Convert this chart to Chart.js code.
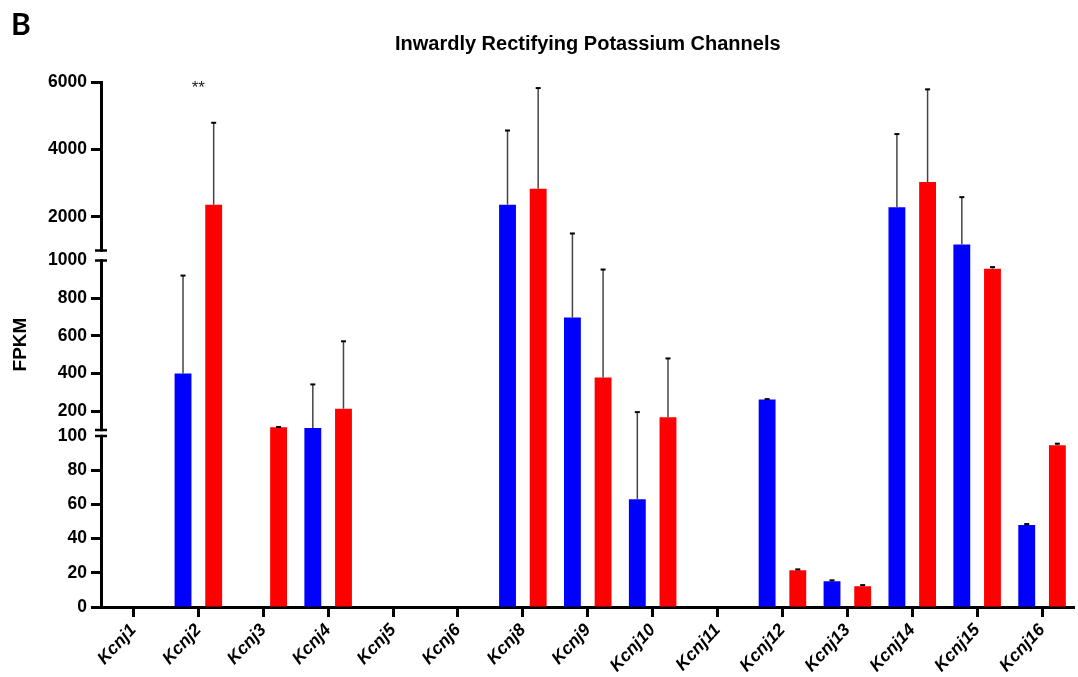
<!DOCTYPE html>
<html>
<head>
<meta charset="utf-8">
<script src="https://cdn.jsdelivr.net/npm/chart.js@4.4.1/dist/chart.umd.min.js"></script>
<style>
  html, body { margin: 0; padding: 0; background: #fff; }
  #wrap { width: 1078px; height: 677px; }
</style>
</head>
<body>
<div id="wrap"><canvas id="kcnjChart" width="1078" height="677"></canvas></div>
<script>
// data (FPKM)
const genes = ['Kcnj1', 'Kcnj2', 'Kcnj3', 'Kcnj4', 'Kcnj5', 'Kcnj6', 'Kcnj8', 'Kcnj9',
    'Kcnj10', 'Kcnj11', 'Kcnj12', 'Kcnj13', 'Kcnj14', 'Kcnj15', 'Kcnj16'];
const blueMean = [0, 400, 0, 110, 0, 0, 2360, 697, 63, 0, 262, 15, 2285, 1178, 48];
const blueSD   = [0, 520, 0, 232, 0, 0, 2200, 808, 132, 0, 2, 0.6, 2170, 1405, 0.5];
const redMean  = [0, 2357, 115, 213, 0, 0, 2832, 379, 168, 0, 21.5, 12.1, 3029, 956, 94.6];
const redSD    = [0, 2433, 1, 358, 0, 0, 2988, 573, 312, 0, 0.5, 0.7, 2753, 9, 0.9];
const tickVals = [0, 20, 40, 60, 80, 100, 200, 400, 600, 800, 1000, 2000, 4000, 6000];
const starGene = 'Kcnj2';

// broken axis: 0-100, 100-1000, 1000-6000 each mapped to its own band
function tf(v) {
    if (v <= 100) return v * 1.71;
    if (v <= 1000) return 177 + (v - 100) * 169.5 / 900;
    return 356.5 + (v - 1000) * 168.5 / 5000;
}
const gaps = [[tf(100), 177], [tf(1000), 356.5]];

const brokenAxis = {
    id: 'brokenAxis',
    afterDraw(chart) {
        const y = chart.scales.y;
        const ctx = chart.ctx;
        const x0 = chart.chartArea.left;
        ctx.save();
        gaps.forEach(([a, b]) => {
            const ya = y.getPixelForValue(a), yb = y.getPixelForValue(b);
            ctx.fillStyle = '#fff';
            ctx.fillRect(x0 - 3, yb + 1.2, 6, ya - yb - 2.4);
            ctx.strokeStyle = '#000';
            ctx.lineWidth = 2.5;
            [ya, yb].forEach(p => {
                ctx.beginPath();
                ctx.moveTo(x0 - 6, p);
                ctx.lineTo(x0 + 6, p);
                ctx.stroke();
            });
        });
        ctx.restore();
    }
};

const errorBars = {
    id: 'errorBars',
    afterDatasetsDraw(chart) {
        const y = chart.scales.y;
        const ctx = chart.ctx;
        ctx.save();
        chart.data.datasets.forEach((ds, di) => {
            const meta = chart.getDatasetMeta(di);
            meta.data.forEach((bar, i) => {
                const sd = ds.sd[i];
                if (!sd) return;
                const top = y.getPixelForValue(tf(ds.mean[i] + sd));
                ctx.strokeStyle = '#444';
                ctx.lineWidth = 1.5;
                ctx.beginPath();
                ctx.moveTo(bar.x, bar.y);
                ctx.lineTo(bar.x, top);
                ctx.stroke();
                ctx.strokeStyle = '#000';
                ctx.lineWidth = 2;
                ctx.beginPath();
                ctx.moveTo(bar.x - 2.5, top);
                ctx.lineTo(bar.x + 2.5, top);
                ctx.stroke();
            });
        });
        ctx.restore();
    }
};

const labelsPlugin = {
    id: 'labelsPlugin',
    afterDraw(chart) {
        const ctx = chart.ctx;
        const area = chart.chartArea;
        ctx.save();
        ctx.fillStyle = '#000';
        ctx.font = 'bold 30px Lato, "Open Sans", sans-serif';
        ctx.textAlign = 'left';
        ctx.textBaseline = 'alphabetic';
        ctx.fillText('B', 11, 35);

        ctx.font = 'bold 20px "Liberation Sans", Arial, sans-serif';
        ctx.textAlign = 'center';
        ctx.fillText('Inwardly Rectifying Potassium Channels', (area.left + area.right) / 2, 50);

        const x = chart.scales.x.getPixelForValue(genes.indexOf(starGene));
        ctx.font = '17px "Liberation Sans", Arial, sans-serif';
        ctx.fillStyle = '#222';
        ctx.fillText('**', x, 93);
        ctx.restore();
    }
};

const ctx = document.getElementById('kcnjChart').getContext('2d');
new Chart(ctx, {
    type: 'bar',
    data: {
        labels: genes,
        datasets: [{
            label: 'blue',
            data: blueMean.map(tf),
            mean: blueMean,
            sd: blueSD,
            backgroundColor: '#0000ff',
            borderWidth: 0,
            categoryPercentage: 0.945,
            barPercentage: 0.55
        }, {
            label: 'red',
            data: redMean.map(tf),
            mean: redMean,
            sd: redSD,
            backgroundColor: '#ff0000',
            borderWidth: 0,
            categoryPercentage: 0.945,
            barPercentage: 0.55
        }]
    },
    options: {
        responsive: false,
        animation: false,
        devicePixelRatio: 1,
        layout: { padding: { top: 82, right: 3.5, bottom: 0, left: 0 } },
        plugins: {
            legend: { display: false },
            tooltip: { enabled: false },
            title: { display: false }
        },
        scales: {
            x: {
                afterFit: s => { s.height = 70; },
                grid: {
                    drawOnChartArea: false,
                    drawTicks: true,
                    tickLength: 10,
                    tickWidth: 3,
                    tickColor: '#000',
                    offset: false
                },
                border: { display: true, color: '#000', width: 3 },
                ticks: {
                    minRotation: 47,
                    maxRotation: 47,
                    autoSkip: false,
                    padding: 3,
                    color: '#000',
                    font: { family: '"Liberation Sans", Arial, sans-serif', size: 17.5, weight: 'bold', style: 'italic' }
                }
            },
            y: {
                min: 0,
                max: 525,
                afterFit: s => { s.width = 101; },
                afterBuildTicks: s => { s.ticks = tickVals.map(v => ({ value: tf(v) })); },
                grid: {
                    drawOnChartArea: false,
                    drawTicks: true,
                    tickLength: 10,
                    tickWidth: 3,
                    tickColor: c => (tickVals[c.index] === 100 || tickVals[c.index] === 1000) ? 'rgba(0,0,0,0)' : '#000'
                },
                border: { display: true, color: '#000', width: 3 },
                title: {
                    display: true,
                    text: 'FPKM',
                    color: '#000',
                    padding: { top: 9, bottom: 0 },
                    font: { family: '"Liberation Sans", Arial, sans-serif', size: 19, weight: 'bold' }
                },
                ticks: {
                    autoSkip: false,
                    padding: 4,
                    color: '#000',
                    callback: (val, i) => tickVals[i],
                    font: { family: '"Liberation Sans", Arial, sans-serif', size: 17.5, weight: 'bold' }
                }
            }
        }
    },
    plugins: [errorBars, brokenAxis, labelsPlugin]
});
</script>
</body>
</html>
